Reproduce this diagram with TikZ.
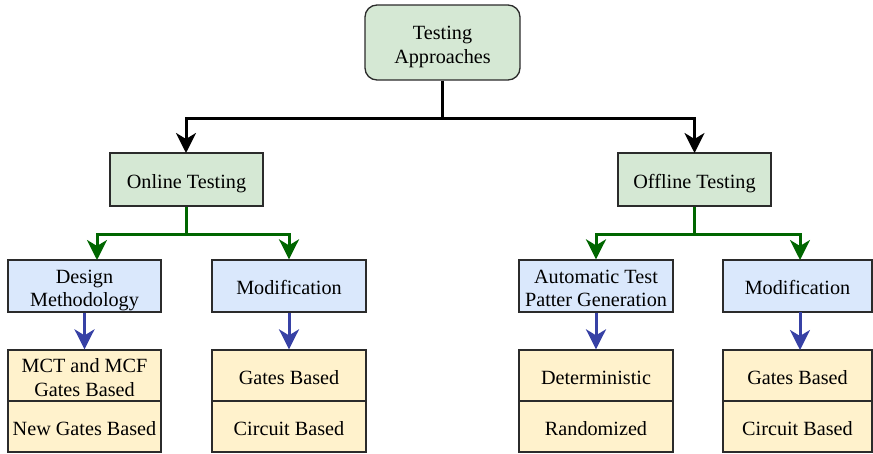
\documentclass[tikz,border=0pt]{standalone}
\usepackage{fontspec}
\setmainfont{Liberation Serif}
\usetikzlibrary{arrows.meta}
\definecolor{gfill}{HTML}{D5E8D4}
\definecolor{bfill}{HTML}{DAE8FC}
\definecolor{yfill}{HTML}{FFF2CC}
\definecolor{gline}{HTML}{006600}
\definecolor{bline}{RGB}{55,65,165}
\definecolor{bord}{HTML}{2B2B2B}
\newcommand\cl[1]{\raisebox{-2pt}[13.5pt][0pt]{#1}}
\begin{document}
\begin{tikzpicture}[x=1pt,y=-1pt,
  box/.style={draw=bord, line width=1.3pt, align=center, inner sep=0pt,
    font=\fontsize{20.2pt}{23.5pt}\selectfont},
  gbox/.style={box, fill=gfill},
  bbox/.style={box, fill=bfill},
  ybox/.style={box, fill=yfill},
  tip/.style={-{Stealth[length=20pt,width=20pt,inset=6pt]}},
  conk/.style={tip, line width=3pt, black},
  cong/.style={tip, line width=3pt, gline},
  conb/.style={tip, line width=3pt, bline}]
\useasboundingbox (0,0) rectangle (873,453);

\node[gbox, rounded corners=12pt, minimum width=155pt, minimum height=75pt] (top) at (442.5,42.5) {\cl{Testing}\\\cl{Approaches}};
\node[gbox, minimum width=153pt, minimum height=53pt] (on) at (186.5,179.5) {\cl{Online Testing}};
\node[gbox, minimum width=153pt, minimum height=53pt] (off) at (694.5,179.5) {\cl{Offline Testing}};

\node[bbox, minimum width=153pt, minimum height=52pt] (dm) at (84.5,286) {\cl{Design}\\\cl{Methodology}};
\node[bbox, minimum width=154pt, minimum height=52pt] (m1) at (289,286) {\cl{Modification}};
\node[bbox, minimum width=154pt, minimum height=52pt] (at) at (596,286) {\cl{Automatic Test}\\\cl{Patter Generation}};
\node[bbox, minimum width=149pt, minimum height=52pt] (m2) at (797.5,286) {\cl{Modification}};

\node[ybox, minimum width=153pt, minimum height=51pt] (a1) at (84.5,375.5) {\cl{MCT and MCF}\\\cl{Gates Based}};
\node[ybox, minimum width=153pt, minimum height=51pt] (a2) at (84.5,426.5) {\cl{New Gates Based}};
\node[ybox, minimum width=154pt, minimum height=51pt] (b1) at (289,375.5) {\cl{Gates Based}};
\node[ybox, minimum width=154pt, minimum height=51pt] (b2) at (289,426.5) {\cl{Circuit Based}};
\node[ybox, minimum width=154pt, minimum height=51pt] (c1) at (596,375.5) {\cl{Deterministic}};
\node[ybox, minimum width=154pt, minimum height=51pt] (c2) at (596,426.5) {\cl{Randomized}};
\node[ybox, minimum width=149pt, minimum height=51pt] (d1) at (797.5,375.5) {\cl{Gates Based}};
\node[ybox, minimum width=149pt, minimum height=51pt] (d2) at (797.5,426.5) {\cl{Circuit Based}};

\coordinate (kj) at (442.5,118);
\coordinate (onT) at (186,153);
\coordinate (offT) at (694.5,153);
\draw[conk] (top.south) -- (kj) -| (onT);
\draw[conk] (kj) -| (offT);

\coordinate (gj1) at (186.5,234);
\coordinate (dmT) at (97,260);
\draw[cong] (on.south) -- (gj1) -| (dmT);
\draw[cong] (gj1) -| (m1.north);
\coordinate (gj2) at (694.5,234);
\coordinate (m2T) at (800,260);
\draw[cong] (off.south) -- (gj2) -| (at.north);
\draw[cong] (gj2) -| (m2T);

\draw[conb] (dm.south) -- (a1.north);
\draw[conb] (m1.south) -- (b1.north);
\draw[conb] (at.south) -- (c1.north);
\coordinate (m2B) at (800,312);
\coordinate (d1T) at (800,350);
\draw[conb] (m2B) -- (d1T);
\end{tikzpicture}
\end{document}
